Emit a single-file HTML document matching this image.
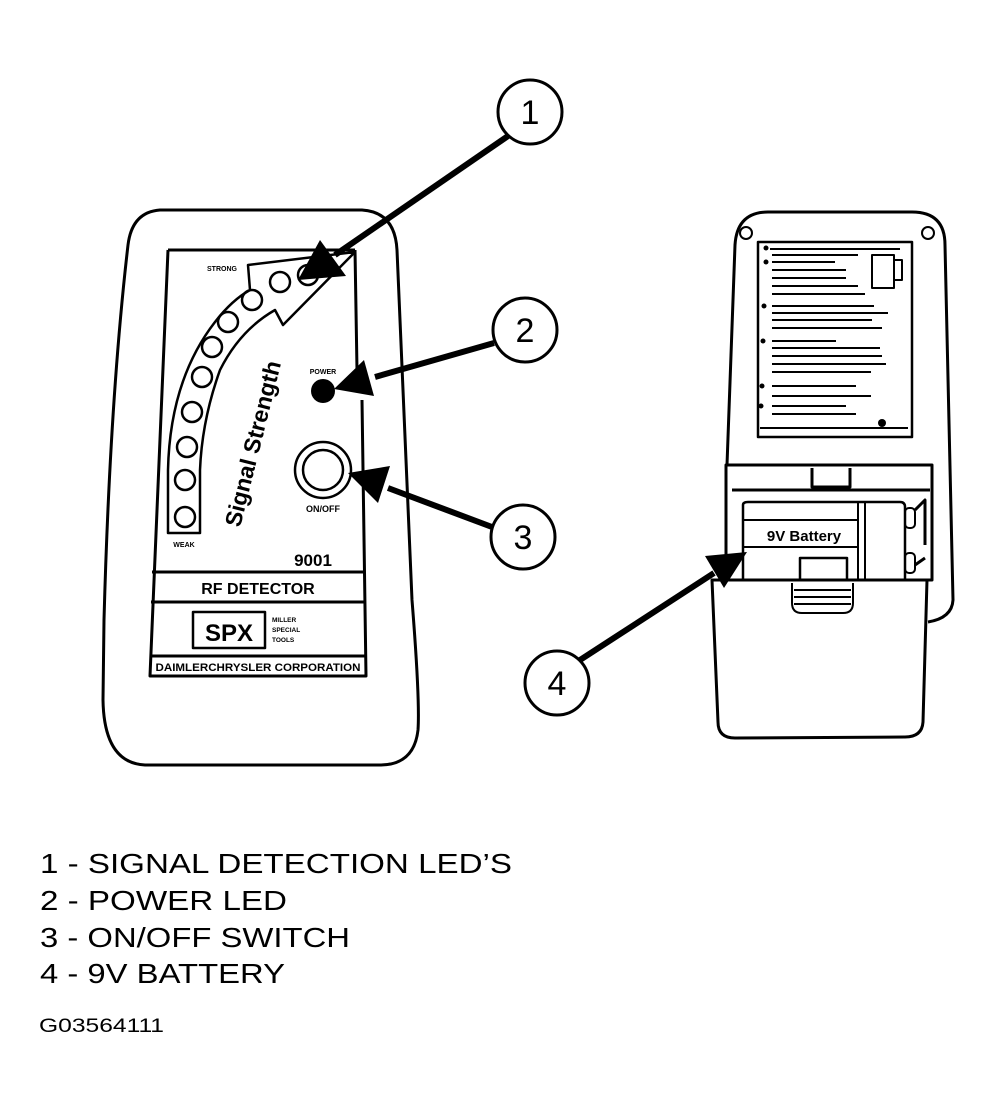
<!DOCTYPE html>
<html><head><meta charset="utf-8"><style>
html,body{margin:0;padding:0;background:#fff;}
svg{display:block;}
text{font-family:"Liberation Sans",sans-serif;fill:#000;}
</style></head><body>
<svg width="995" height="1107" viewBox="0 0 995 1107" xmlns="http://www.w3.org/2000/svg">
<g fill="none" stroke="#000" stroke-width="3" stroke-linejoin="round">
<path d="M160,210 L362,210 Q395,212 397,250 L412,600 Q420,700 418,730 Q414,765 380,765 L145,765 Q104,763 103,700 L104,620 Q110,400 128,245 Q132,212 160,210 Z"/>
<path d="M168,250 L355,250 M168,250 L150,676 L366,676 L362,400 M355,250 L357,370"/>
<path d="M152,572 L364,572 M151,602 L365,602 M150,656 L366,656"/>
<rect x="193" y="612" width="72" height="36" stroke-width="2.5"/>
<path d="M168,533 L168,470 Q170,380 215,322 Q232,300 250,290 L248,265 L355,252 L283,325 L275,310 Q240,330 220,370 Q202,420 200,470 L200,533 Z" stroke-width="2.5"/>
</g>
<g fill="none" stroke="#000" stroke-width="2.5">
<circle cx="185" cy="517" r="10"/><circle cx="185" cy="480" r="10"/><circle cx="187" cy="447" r="10"/>
<circle cx="192" cy="412" r="10"/><circle cx="202" cy="377" r="10"/><circle cx="212" cy="347" r="10"/>
<circle cx="228" cy="322" r="10"/><circle cx="252" cy="300" r="10"/><circle cx="280" cy="282" r="10"/>
<circle cx="308" cy="275" r="10"/>
<circle cx="323" cy="470" r="28"/><circle cx="323" cy="470" r="20"/>
</g>
<circle cx="323" cy="391" r="12" fill="#000"/>
<text x="222" y="271" font-size="7" font-weight="bold" text-anchor="middle">STRONG</text>
<text x="184" y="547" font-size="7" font-weight="bold" text-anchor="middle">WEAK</text>
<text x="323" y="374" font-size="7" font-weight="bold" text-anchor="middle">POWER</text>
<text x="323" y="512" font-size="9" font-weight="bold" text-anchor="middle">ON/OFF</text>
<text transform="translate(240,528) rotate(-76)" font-size="23" font-weight="bold">Signal Strength</text>
<text x="313" y="566" font-size="17" font-weight="bold" text-anchor="middle">9001</text>
<text x="258" y="594" font-size="16" font-weight="bold" text-anchor="middle">RF DETECTOR</text>
<text x="229" y="641" font-size="24" font-weight="bold" text-anchor="middle">SPX</text>
<text x="272" y="622" font-size="6.5" font-weight="bold">MILLER</text>
<text x="272" y="632" font-size="6.5" font-weight="bold">SPECIAL</text>
<text x="272" y="642" font-size="6.5" font-weight="bold">TOOLS</text>
<text x="258" y="671" font-size="11" font-weight="bold" font-family="Liberation Serif" text-anchor="middle" textLength="205" lengthAdjust="spacingAndGlyphs">DAIMLERCHRYSLER CORPORATION</text>

<g fill="none" stroke="#000" stroke-width="3" stroke-linejoin="round">
<path d="M727,465 L735,245 Q737,212 768,212 L912,212 Q945,212 945,245 L953,600 Q952,618 928,622"/>
<circle cx="746" cy="233" r="6" stroke-width="2"/><circle cx="928" cy="233" r="6" stroke-width="2"/>
<rect x="758" y="242" width="154" height="195" stroke-width="2.5"/>
<rect x="872" y="255" width="22" height="33" stroke-width="2"/><rect x="894" y="260" width="8" height="20" stroke-width="2"/>
<rect x="726" y="465" width="206" height="115"/>
<path d="M732,490 L930,490 M812,468 L812,487 L850,487 L850,468"/>
<path d="M743,580 L743,505 Q743,502 748,502 L900,502 Q905,502 905,507 L905,580" stroke-width="2.5"/>
<path d="M743,520 L858,520 M743,547 L858,547 M858,502 L858,580 M865,502 L865,580" stroke-width="2"/>
<rect x="905" y="508" width="10" height="20" rx="4" stroke-width="2"/>
<rect x="905" y="553" width="10" height="20" rx="4" stroke-width="2"/>
<path d="M915,510 L925,500 L925,545 M915,565 L925,558"/>
<rect x="800" y="558" width="47" height="22" stroke-width="2.5"/>
<path d="M792,583 L792,603 Q792,613 802,613 L843,613 Q853,613 853,603 L853,583 M794,590 L851,590 M794,597 L851,597 M794,604 L851,604" stroke-width="2"/>
<path d="M712,580 L927,580 L923,722 Q922,737 905,737 L735,738 Q718,738 718,722 L712,580 Z"/>
<g stroke-width="2">
<path d="M770,249 L900,249 M772,255 L858,255 M772,262 L835,262 M772,270 L846,270 M772,278 L846,278 M772,286 L858,286 M772,294 L865,294 M772,306 L874,306 M772,313 L888,313 M772,320 L872,320 M772,328 L882,328 M772,341 L836,341 M772,348 L880,348 M772,356 L882,356 M772,364 L886,364 M772,372 L871,372 M772,386 L856,386 M772,396 L871,396 M772,406 L846,406 M772,414 L856,414 M760,428 L908,428"/>
</g>
</g>
<g fill="#000">
<circle cx="766" cy="248" r="2.5"/><circle cx="766" cy="262" r="2.5"/><circle cx="764" cy="306" r="2.5"/>
<circle cx="763" cy="341" r="2.5"/><circle cx="762" cy="386" r="2.5"/><circle cx="761" cy="406" r="2.5"/>
<circle cx="882" cy="423" r="4"/>
</g>
<text x="804" y="541" font-size="15" font-weight="bold" text-anchor="middle">9V Battery</text>

<g stroke="#000" stroke-width="6" fill="none">
<line x1="508" y1="136" x2="335" y2="255"/>
<line x1="494" y1="343" x2="375" y2="377"/>
<line x1="492" y1="527" x2="388" y2="488"/>
<line x1="580" y1="660" x2="714" y2="573"/>
</g>
<g fill="#000">
<polygon points="298,280 320,240 346,276"/>
<polygon points="334,389 364,360 374,396"/>
<polygon points="348,473 390,466 378,503"/>
<polygon points="747,552 705,556 724,588"/>
</g>
<g fill="#fff" stroke="#000" stroke-width="3">
<circle cx="530" cy="112" r="32"/><circle cx="525" cy="330" r="32"/>
<circle cx="523" cy="537" r="32"/><circle cx="557" cy="683" r="32"/>
</g>
<g font-size="34" text-anchor="middle">
<text x="530" y="124">1</text><text x="525" y="342">2</text>
<text x="523" y="549">3</text><text x="557" y="695">4</text>
</g>

<text x="40" y="873" font-size="28" textLength="472" lengthAdjust="spacingAndGlyphs">1 - SIGNAL DETECTION LED’S</text>
<text x="40" y="910" font-size="28" textLength="247" lengthAdjust="spacingAndGlyphs">2 - POWER LED</text>
<text x="40" y="947" font-size="28" textLength="310" lengthAdjust="spacingAndGlyphs">3 - ON/OFF SWITCH</text>
<text x="40" y="983" font-size="28" textLength="245" lengthAdjust="spacingAndGlyphs">4 - 9V BATTERY</text>
<text x="39" y="1032" font-size="19" textLength="125" lengthAdjust="spacingAndGlyphs">G03564111</text>
</svg>
</body></html>
